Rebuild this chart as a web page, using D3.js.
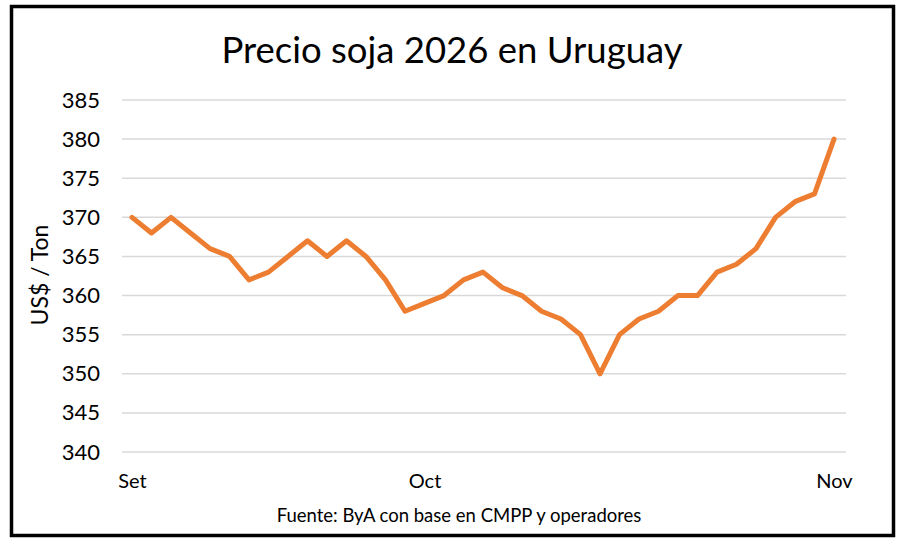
<!DOCTYPE html>
<html>
<head>
<meta charset="utf-8">
<script src="https://cdn.jsdelivr.net/npm/d3@7"></script>
<style>
  body { margin: 0; background: #fff; }
  text { font-family: Lato, "Liberation Sans", sans-serif; fill: #000; }
</style>
</head>
<body>
<script>
// precio soja 2026, US$/Ton, un valor por fecha
var precios = [370, 368, 370, 368, 366, 365, 362, 363, 365, 367, 365, 367, 365, 362, 358,
  359, 360, 362, 363, 361, 360, 358, 357, 355, 350, 355, 357, 358, 360, 360,
  363, 364, 366, 370, 372, 373, 380]
var meses = ['Set', 'Oct', 'Nov']
var mesIndice = [0, 15, 36]
var yTicks = [340, 345, 350, 355, 360, 365, 370, 375, 380, 385]

var svg = d3.select('body').append('svg')
  .attr('width', 903)
  .attr('height', 541)

svg.append('rect')
  .attr('x', 0).attr('y', 0)
  .attr('width', 903).attr('height', 541)
  .attr('fill', '#fff')

// marco negro
svg.append('rect')
  .attr('x', 11.5).attr('y', 6.5)
  .attr('width', 882).attr('height', 529)
  .attr('fill', 'none')
  .attr('stroke', '#000')
  .attr('stroke-width', 3.5)

var x = d3.scalePoint()
  .domain(d3.range(precios.length))
  .range([132, 834])

var y = d3.scaleLinear()
  .domain([340, 385])
  .range([452, 100])

// grilla
svg.append('g').selectAll('line')
  .data(yTicks)
  .enter().append('line')
  .attr('x1', 122)
  .attr('x2', 846)
  .attr('y1', function(d) { return y(d) })
  .attr('y2', function(d) { return y(d) })
  .attr('stroke', '#d9d9d9')
  .attr('stroke-width', 1.5)

var yAxis = svg.append('g')
  .attr('transform', 'translate(122,0)')
  .call(d3.axisLeft(y).tickValues(yTicks).tickSize(0).tickPadding(22))
yAxis.select('.domain').remove()
yAxis.selectAll('text')
  .style('font-size', '22px')
  .style('font-family', 'Lato, "Liberation Sans", sans-serif')

var xAxis = svg.append('g')
  .attr('transform', 'translate(0,471)')
  .call(d3.axisBottom(x).tickValues(mesIndice).tickSize(0).tickPadding(3)
    .tickFormat(function(d, i) { return meses[i] }))
xAxis.select('.domain').remove()
xAxis.selectAll('text')
  .style('font-size', '20px')
  .style('font-family', 'Lato, "Liberation Sans", sans-serif')

var line = d3.line()
  .x(function(d, i) { return x(i) })
  .y(function(d) { return y(d) })

svg.append('path')
  .datum(precios)
  .attr('d', line)
  .attr('fill', 'none')
  .attr('stroke', '#ed7d31')
  .attr('stroke-width', 5)
  .attr('stroke-linejoin', 'round')
  .attr('stroke-linecap', 'round')

svg.append('text')
  .attr('x', 452)
  .attr('y', 63)
  .attr('text-anchor', 'middle')
  .style('font-size', '36.5px')
  .text('Precio soja 2026 en Uruguay')

svg.append('text')
  .attr('transform', 'translate(48,275) rotate(-90)')
  .attr('text-anchor', 'middle')
  .style('font-size', '23px')
  .text('US$ / Ton')

svg.append('text')
  .attr('x', 459)
  .attr('y', 522)
  .attr('text-anchor', 'middle')
  .style('font-size', '18.5px')
  .text('Fuente: ByA con base en CMPP y operadores')
</script>
</body>
</html>
